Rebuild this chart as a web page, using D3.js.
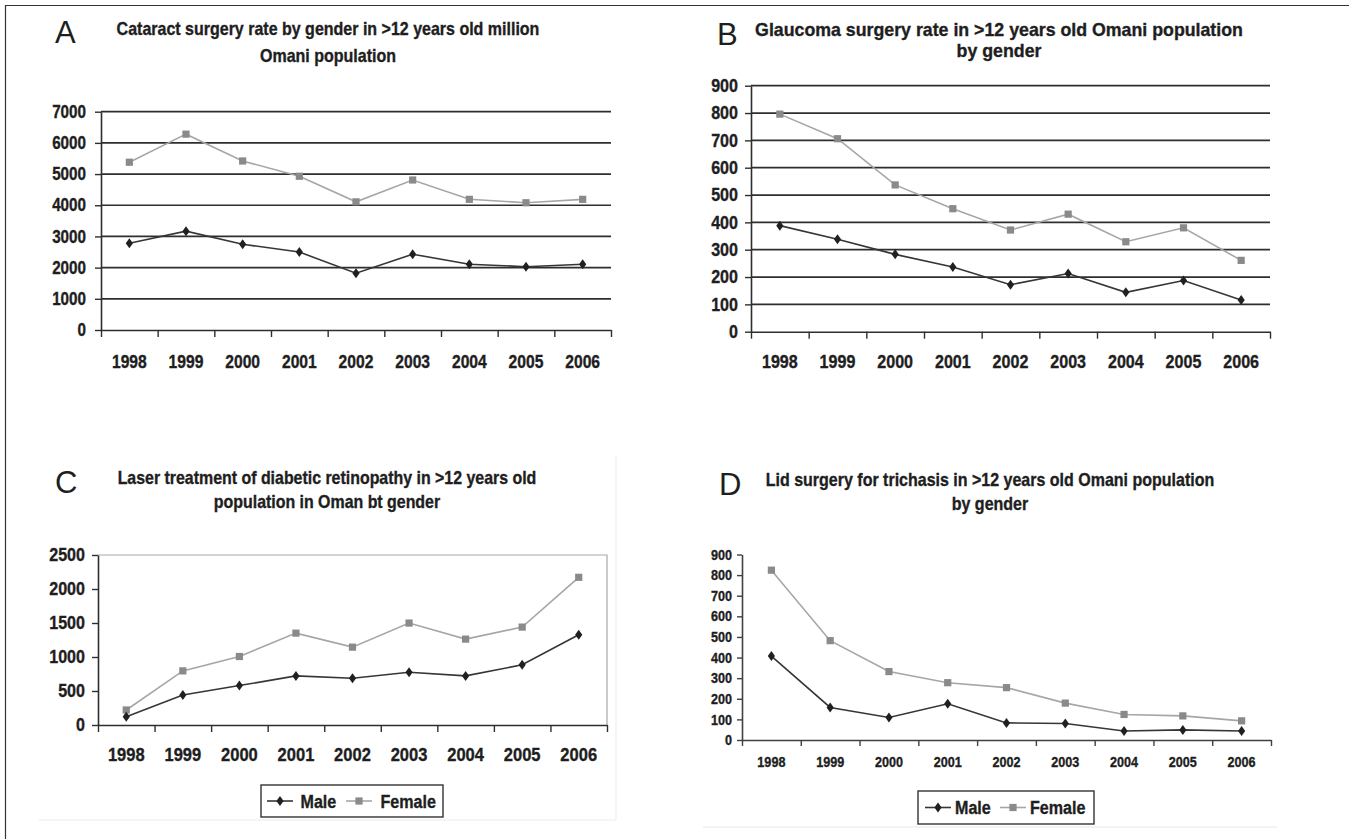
<!DOCTYPE html>
<html>
<head>
<meta charset="utf-8">
<script src="https://cdn.jsdelivr.net/npm/d3@7"></script>
<style>
  html, body { margin: 0; padding: 0; background: #fff; }
  svg { display: block; }
  text.b { stroke: #1e1e1e; stroke-width: 0.35px; }
</style>
</head>
<body>
<svg id="chart" width="1349" height="839"></svg>
<script>
// ---------------- DATA ----------------
const years = ["1998", "1999", "2000", "2001", "2002", "2003", "2004", "2005", "2006"];
const seriesNames = ["Male", "Female"];

const cataractMale   = [2780, 3170, 2750, 2500, 1820, 2430, 2110, 2030, 2110];
const cataractFemale = [5380, 6280, 5420, 4930, 4110, 4810, 4190, 4080, 4190];
const cataractTicks  = [0, 1000, 2000, 3000, 4000, 5000, 6000, 7000];

const glaucomaMale   = [388, 338, 283, 237, 172, 213, 144, 187, 116];
const glaucomaFemale = [796, 706, 537, 450, 372, 430, 329, 380, 261];
const glaucomaTicks  = [0, 100, 200, 300, 400, 500, 600, 700, 800, 900];

const laserMale   = [123, 442, 580, 722, 688, 776, 722, 885, 1327];
const laserFemale = [221, 796, 1007, 1351, 1145, 1499, 1263, 1440, 2172];
const laserTicks  = [0, 500, 1000, 1500, 2000, 2500];

const lidMale   = [407, 158, 109, 176, 83, 80, 44, 49, 44];
const lidFemale = [824, 482, 332, 278, 254, 179, 124, 117, 93];
const lidTicks  = [0, 100, 200, 300, 400, 500, 600, 700, 800, 900];

const panelLetters = ["A", "B", "C", "D"];
const titleA = ["Cataract surgery rate by gender in >12 years old million", "Omani population"];
const titleB = ["Glaucoma surgery rate in >12 years old Omani population", "by gender"];
const titleC = ["Laser treatment of diabetic retinopathy in >12 years old", "population in Oman bt gender"];
const titleD = ["Lid surgery for trichasis in >12 years old Omani population", "by gender"];

// ---------------- STYLE ----------------
const BOLD = "'Liberation Sans',Arial,sans-serif";
const SANS = "'Liberation Sans',Arial,sans-serif";
const SX = 0.87;  // horizontal condensing (narrow look)
const INK = "#1e1e1e";
const MALE_LINE = "#363636", MALE_MARK = "#202020";
const FEMALE_LINE = "#a6a6a6", FEMALE_MARK = "#8a8a8a";

const svg = d3.select("#chart");

function narrow(sel, sx = SX) {
  sel.each(function () {
    const t = d3.select(this);
    const x = +(t.attr("x") || 0);
    t.attr("transform", `translate(${x},0) scale(${sx},1) translate(${-x},0)`);
  });
  return sel;
}

// outer frame lines (top and left)
svg.append("line").attr("x1", 5).attr("x2", 1349).attr("y1", 5.5).attr("y2", 5.5)
  .attr("stroke", "#333").attr("stroke-width", 1.2);
svg.append("line").attr("x1", 5.5).attr("x2", 5.5).attr("y1", 5).attr("y2", 839)
  .attr("stroke", "#333").attr("stroke-width", 1.2);

// faint chart-area frames
svg.append("path").attr("d", "M39,820H616V455")
  .attr("fill", "none").attr("stroke", "#ebebeb").attr("stroke-width", 1);
svg.append("line").attr("x1", 703).attr("x2", 1277).attr("y1", 827).attr("y2", 827)
  .attr("stroke", "#e6e6e6").attr("stroke-width", 1);

const panels = [
  { letter: panelLetters[0], title: titleA, male: cataractMale, female: cataractFemale, ticks: cataractTicks,
    x0: 101, x1: 611, yB: 330, yT: 111.7, letterX: 55, letterY: 43, titleX: 328, titleY: [35, 62], titleFs: 18.4, titleSx: 0.87,
    grid: true, border: false, tick: 6, yPad: 9, yFs: 17.5, xFs: 18, xBase: 368, legend: null, axisColor: "#2e2e2e" },
  { letter: panelLetters[1], title: titleB, male: glaucomaMale, female: glaucomaFemale, ticks: glaucomaTicks,
    x0: 751, x1: 1270, yB: 331.7, yT: 85.7, letterX: 717, letterY: 45, titleX: 999, titleY: [36, 57], titleFs: 18.5, titleSx: 0.96,
    grid: true, border: false, tick: 6, yPad: 7, yFs: 18.5, xFs: 18.5, xBase: 368, legend: null, axisColor: "#2e2e2e" },
  { letter: panelLetters[2], title: titleC, male: laserMale, female: laserFemale, ticks: laserTicks,
    x0: 98, x1: 607, yB: 725, yT: 555, letterX: 55, letterY: 493, titleX: 327, titleY: [484, 508], titleFs: 18.3, titleSx: 0.87,
    grid: false, border: true, tick: 6, yPad: 7, yFs: 18.5, xFs: 19, xBase: 761,
    legend: { x: 261, y: 785, w: 182, h: 32, fs: 18.5, items: [[267, 300.5], [346, 380.5]] }, axisColor: "#2e2e2e" },
  { letter: panelLetters[3], title: titleD, male: lidMale, female: lidFemale, ticks: lidTicks,
    x0: 742, x1: 1271, yB: 740, yT: 554.5, letterX: 719, letterY: 495, titleX: 990, titleY: [486, 510], titleFs: 18.4, titleSx: 0.87,
    grid: false, border: false, tick: 5, yPad: 5, yFs: 14.5, xFs: 14.5, xBase: 767,
    legend: { x: 918, y: 791, w: 176, h: 33, fs: 18.5, items: [[925, 955], [1000, 1030]] }, axisColor: "#404040" }
];

function diamond(w, h) { return `M0,${-h}L${w},0L0,${h}L${-w},0Z`; }

function drawMarker(g, kind, cx, cy) {
  if (kind === "Male") {
    g.append("path").attr("d", diamond(3.6, 5)).attr("transform", `translate(${cx},${cy})`)
      .attr("fill", MALE_MARK);
  } else {
    g.append("rect").attr("x", cx - 3.6).attr("y", cy - 3.6).attr("width", 7.2).attr("height", 7.2)
      .attr("fill", FEMALE_MARK);
  }
}

panels.forEach(p => {
  const g = svg.append("g");
  const x = d3.scaleBand().domain(years).range([p.x0, p.x1]).padding(0);
  const bw = x.bandwidth();
  const maxV = p.ticks[p.ticks.length - 1];
  const y = d3.scaleLinear().domain([0, maxV]).range([p.yB, p.yT]);

  // panel letter
  g.append("text").attr("x", p.letterX).attr("y", p.letterY).text(p.letter)
    .attr("font-family", SANS).attr("font-size", 31).attr("fill", INK);
  // title
  p.title.forEach((t, i) => {
    g.append("text").attr("class", "b").attr("x", p.titleX).attr("y", p.titleY[i]).attr("text-anchor", "middle")
      .attr("font-family", BOLD).attr("font-weight", "bold").attr("font-size", p.titleFs)
      .attr("fill", INK).text(t).call(narrow, p.titleSx);
  });

  // gridlines
  if (p.grid) {
    g.append("g").selectAll("line").data(p.ticks.filter(v => v > 0)).join("line")
      .attr("x1", p.x0).attr("x2", p.x1).attr("y1", d => y(d)).attr("y2", d => y(d))
      .attr("stroke", "#2e2e2e").attr("stroke-width", 1.7);
  }
  // plot-area border (top + right)
  if (p.border) {
    g.append("path").attr("d", `M${p.x0},${y(maxV)}H${p.x1}V${y(0)}`)
      .attr("fill", "none").attr("stroke", "#a8a8a8").attr("stroke-width", 1.2);
  }

  // y axis
  const ya = g.append("g").attr("transform", `translate(${p.x0},0)`)
    .call(d3.axisLeft(y).tickValues(p.ticks).tickSize(p.tick).tickSizeOuter(0).tickPadding(p.yPad).tickFormat(d3.format("d")));
  ya.select(".domain").attr("stroke", p.axisColor).attr("stroke-width", 1.6);
  ya.selectAll(".tick line").attr("stroke", p.axisColor).attr("stroke-width", 1.4);
  ya.selectAll("text").attr("class", "b").attr("font-family", BOLD).attr("font-weight", "bold")
    .attr("font-size", p.yFs).attr("fill", INK).call(narrow);

  // x axis: boundary ticks
  const idx = d3.scaleLinear().domain([0, years.length]).range([p.x0, p.x1]);
  const xa = g.append("g").attr("transform", `translate(0,${p.yB})`)
    .call(d3.axisBottom(idx).ticks(years.length).tickSize(p.tick + 1).tickSizeOuter(0).tickFormat(""));
  xa.select(".domain").attr("stroke", p.axisColor).attr("stroke-width", 1.6);
  xa.selectAll(".tick line").attr("stroke", p.axisColor).attr("stroke-width", 1.4);

  // x labels at band centres
  const xl = g.append("g").attr("transform", `translate(0,${p.xBase})`)
    .call(d3.axisBottom(x).tickSize(0).tickPadding(0));
  xl.select(".domain").remove();
  xl.selectAll("text").attr("class", "b").attr("dy", null).attr("y", 0).attr("font-family", BOLD).attr("font-weight", "bold")
    .attr("font-size", p.xFs).attr("fill", INK).call(narrow);

  // series
  const line = d3.line().x((d, i) => x(years[i]) + bw / 2).y(d => y(d));
  g.append("path").datum(p.female).attr("d", line).attr("fill", "none")
    .attr("stroke", FEMALE_LINE).attr("stroke-width", 1.6);
  g.append("path").datum(p.male).attr("d", line).attr("fill", "none")
    .attr("stroke", MALE_LINE).attr("stroke-width", 1.6);
  p.female.forEach((v, i) => drawMarker(g, "Female", x(years[i]) + bw / 2, y(v)));
  p.male.forEach((v, i) => drawMarker(g, "Male", x(years[i]) + bw / 2, y(v)));

  // legend
  if (p.legend) {
    const L = p.legend;
    g.append("rect").attr("x", L.x).attr("y", L.y).attr("width", L.w).attr("height", L.h)
      .attr("fill", "#fff").attr("stroke", "#333").attr("stroke-width", 1.4);
    const cy = L.y + L.h / 2;
    seriesNames.forEach((name, i) => {
      const [lx, tx] = L.items[i];
      g.append("line").attr("x1", lx).attr("x2", lx + 26).attr("y1", cy).attr("y2", cy)
        .attr("stroke", name === "Male" ? MALE_LINE : FEMALE_LINE).attr("stroke-width", 1.6);
      drawMarker(g, name, lx + 13, cy);
      g.append("text").attr("class", "b").attr("x", tx).attr("y", cy + L.fs * 0.36).text(name)
        .attr("font-family", BOLD).attr("font-weight", "bold").attr("font-size", L.fs).attr("fill", INK)
        .call(narrow);
    });
  }
});
</script>
</body>
</html>
